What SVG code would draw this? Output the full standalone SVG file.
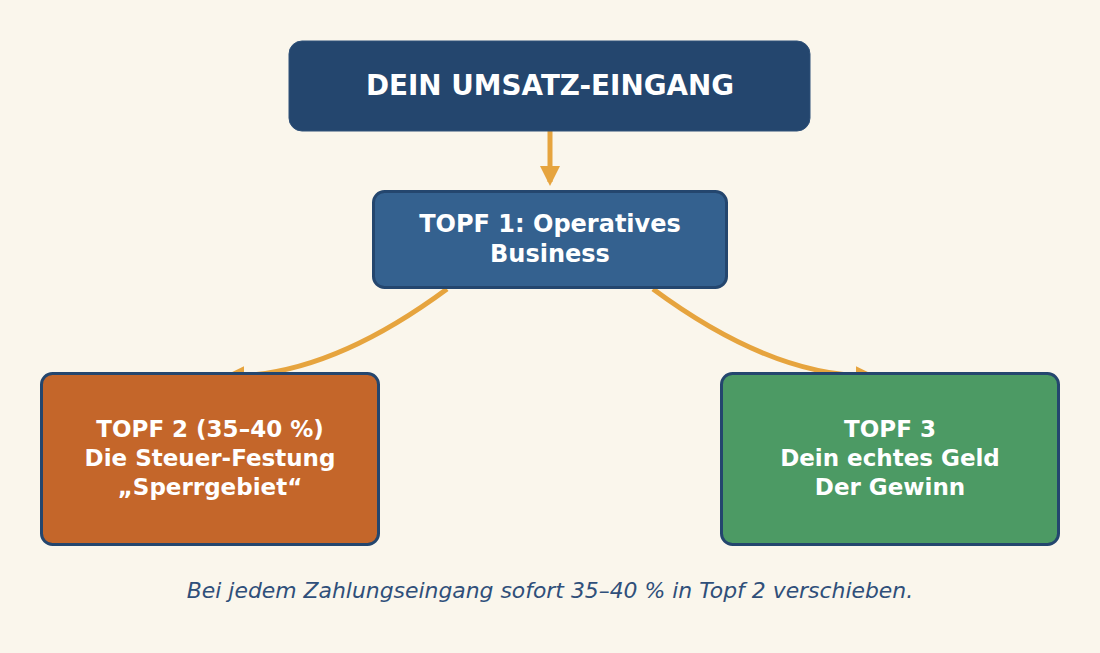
<svg xmlns="http://www.w3.org/2000/svg" width="1100" height="653" viewBox="0 0 1100 653">
<defs>
<style>
.t{font-family:"DejaVu Sans",sans-serif;font-weight:bold;fill:#ffffff;text-anchor:middle}
.box{stroke:#24466E;stroke-width:3}
.con{fill:none;stroke:#E6A43E;stroke-width:5}
</style>
<marker id="ah" viewBox="0 0 10 10" refX="8" refY="5" markerWidth="4" markerHeight="4" orient="auto" markerUnits="strokeWidth">
<path d="M0,0 L10,5 L0,10 z" fill="#E6A43E"/>
</marker>
</defs>
<rect width="1100" height="653" fill="#FAF6EC"/>
<g id="connectors">
<line class="con" x1="550" y1="131" x2="550" y2="182" marker-end="url(#ah)"/>
<path class="con" d="M447,289 Q328,377 228,376" marker-end="url(#ah)"/>
<path class="con" d="M653,289 Q772,377 872,376" marker-end="url(#ah)"/>
</g>
<g id="n0">
<rect x="289" y="41" width="521" height="90" rx="13" fill="#24466E" stroke="#2E5078" stroke-width="1"/>
<text class="t" x="550" y="95" font-size="27.8">DEIN UMSATZ-EINGANG</text>
</g>
<g id="n1">
<rect class="box" x="373.5" y="191.5" width="353" height="96" rx="11" fill="#34618F"/>
<text class="t" x="550" y="232" font-size="24">TOPF 1: Operatives</text>
<text class="t" x="550" y="262" font-size="24">Business</text>
</g>
<g id="n2">
<rect class="box" x="41.5" y="373.5" width="337" height="171" rx="11" fill="#C4662A"/>
<text class="t" x="210" y="437" font-size="23">TOPF 2 (35–40 %)</text>
<text class="t" x="210" y="466" font-size="23">Die Steuer-Festung</text>
<text class="t" x="210" y="495" font-size="23">„Sperrgebiet“</text>
</g>
<g id="n3">
<rect class="box" x="721.5" y="373.5" width="337" height="171" rx="11" fill="#4C9A64"/>
<text class="t" x="890" y="437" font-size="23">TOPF 3</text>
<text class="t" x="890" y="466" font-size="23">Dein echtes Geld</text>
<text class="t" x="890" y="495" font-size="23">Der Gewinn</text>
</g>
<text x="550" y="598" font-family="DejaVu Sans,sans-serif" font-style="italic" font-size="21.9" fill="#2F4F7A" text-anchor="middle">Bei jedem Zahlungseingang sofort 35–40 % in Topf 2 verschieben.</text>
</svg>
